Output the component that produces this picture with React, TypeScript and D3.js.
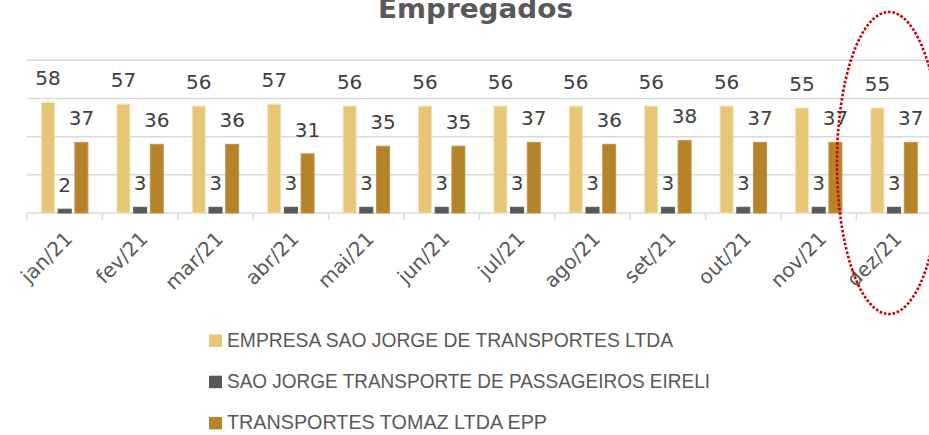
import React from "react";
import * as d3 from "d3";

const months = ["jan/21", "fev/21", "mar/21", "abr/21", "mai/21", "jun/21", "jul/21", "ago/21", "set/21", "out/21", "nov/21", "dez/21"];
const seriesNames = [
  "EMPRESA SAO JORGE DE TRANSPORTES LTDA",
  "SAO JORGE TRANSPORTE DE PASSAGEIROS EIRELI",
  "TRANSPORTES TOMAZ LTDA EPP",
];
const empresaSaoJorge = [58, 57, 56, 57, 56, 56, 56, 56, 56, 56, 55, 55];
const saoJorgePassageiros = [2, 3, 3, 3, 3, 3, 3, 3, 3, 3, 3, 3];
const tomaz = [37, 36, 36, 31, 35, 35, 37, 36, 38, 37, 37, 37];
const gridValues = [20, 40, 60, 80];
const title = "Empregados";

const colors = ["#E8C677", "#595959", "#B5832A"];
const strokes = ["#F3E3B6", "#595959", "#C29544"];
const legendWidths = [446, 483, 320];

export default function App() {
  const W = 929, H = 435;
  const left = 27, step = 75.4;
  const x = d3.scaleBand<string>().domain(months).range([left, left + step * months.length]).padding(0);
  const y = d3.scaleLinear().domain([0, 80]).range([213, 60.3]);
  const data = [empresaSaoJorge, saoJorgePassageiros, tomaz];
  const inner = d3.scaleBand<number>().domain([0, 1, 2]).range([-23.2, 23.2]).paddingInner(0.22).paddingOuter(0);
  const bw = inner.bandwidth();
  const ellipse = { cx: 889, cy: 163, rx: 52, ry: 151 };

  return (
    <svg width={W} height={H} style={{ position: "absolute", left: 0, top: 0, background: "#fff" }}>
      <text x={475.5} y={18} textAnchor="middle" fontFamily="DejaVu Sans" fontWeight="bold" fontSize={27} fill="#595959" textLength={195} lengthAdjust="spacingAndGlyphs">{title}</text>
      {gridValues.map((v) => (
        <line key={v} x1={left} x2={W} y1={y(v)} y2={y(v)} stroke="#D9D9D9" strokeWidth={1.5} />
      ))}
      <line x1={left} x2={W} y1={y(0)} y2={y(0)} stroke="#D9D9D9" strokeWidth={1.5} />
      {d3.range(months.length + 1).map((i) => (
        <line key={i} x1={left + i * step} x2={left + i * step} y1={y(0)} y2={y(0) + 7} stroke="#D9D9D9" strokeWidth={1.5} />
      ))}
      {months.map((m, i) => {
        const cx = (x(m) as number) + x.bandwidth() / 2;
        return (
          <g key={m}>
            {data.map((s, k) => {
              const bx = cx + (inner(k) as number);
              const top = y(s[i]);
              return (
                <g key={k}>
                  <rect x={bx} y={top} width={bw} height={y(0) - top} fill={colors[k]} stroke={strokes[k]} strokeWidth={1} />
                  <text x={bx + bw / 2} y={top - 17} textAnchor="middle" fontFamily="DejaVu Sans" fontSize={20} fill="#404040">{s[i]}</text>
                </g>
              );
            })}
            <text transform={`translate(${cx + 9},${240}) rotate(-45)`} textAnchor="end" fontFamily="DejaVu Sans" fontSize={20} fill="#595959">{m}</text>
          </g>
        );
      })}
      {seriesNames.map((n, k) => {
        const base = 347 + k * 41.2;
        return (
          <g key={n}>
            <rect x={209} y={base - 12.5} width={13} height={12.5} fill={colors[k]} />
            <text x={227} y={base} fontFamily="Liberation Sans" fontSize={21} fill="#595959" textLength={legendWidths[k]} lengthAdjust="spacingAndGlyphs">{n}</text>
          </g>
        );
      })}
      <ellipse cx={ellipse.cx} cy={ellipse.cy} rx={ellipse.rx} ry={ellipse.ry} fill="none" stroke="#CC0000" strokeWidth={2.6} strokeDasharray="2.6 1.8" />
    </svg>
  );
}
